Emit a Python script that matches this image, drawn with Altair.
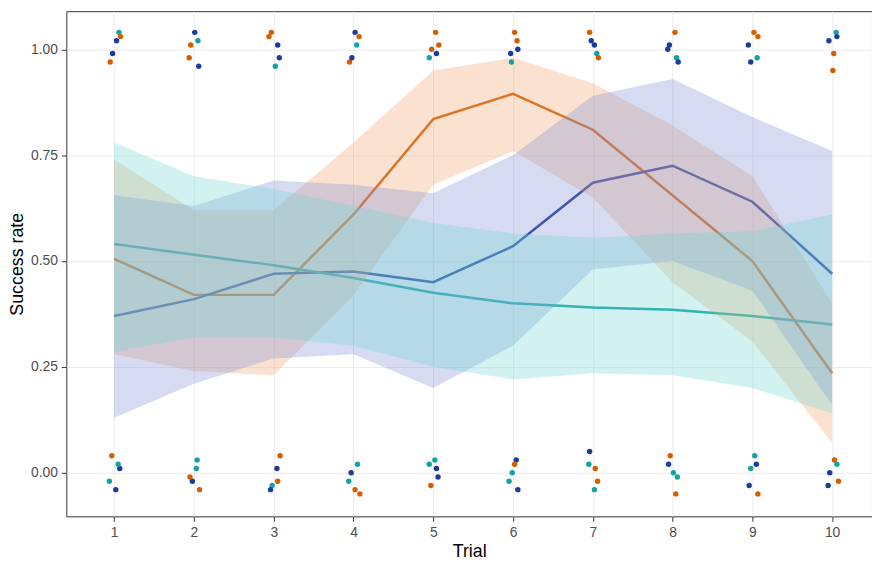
import altair as alt
import pandas as pd

trials = list(range(1, 11))
groups = ["A", "B", "C"]
colors = ["#D55E00", "#1F3A9E", "#14A3A3"]
fills = ["#F3A66E", "#7F8FD8", "#6FD6CF"]

mean_A = [0.505, 0.42, 0.42, 0.61, 0.835, 0.895, 0.81, 0.655, 0.50, 0.235]
lo_A = [0.28, 0.24, 0.23, 0.42, 0.68, 0.76, 0.65, 0.45, 0.31, 0.07]
hi_A = [0.74, 0.62, 0.62, 0.78, 0.95, 0.98, 0.92, 0.82, 0.70, 0.40]
mean_B = [0.37, 0.41, 0.47, 0.475, 0.45, 0.535, 0.685, 0.725, 0.64, 0.47]
lo_B = [0.13, 0.21, 0.27, 0.28, 0.20, 0.30, 0.48, 0.50, 0.43, 0.16]
hi_B = [0.655, 0.63, 0.69, 0.68, 0.66, 0.75, 0.89, 0.93, 0.84, 0.76]
mean_C = [0.54, 0.515, 0.49, 0.46, 0.425, 0.40, 0.39, 0.385, 0.37, 0.35]
lo_C = [0.285, 0.32, 0.32, 0.30, 0.25, 0.22, 0.235, 0.23, 0.20, 0.14]
hi_C = [0.78, 0.70, 0.67, 0.63, 0.59, 0.565, 0.555, 0.565, 0.57, 0.61]

# jittered raw outcomes: trial, outcome, group, x offset, y offset
pt_trial = [1]*10 + [2]*10 + [3]*10 + [4]*10 + [5]*10 + [6]*10 + [7]*10 + [8]*10 + [9]*10 + [10]*10
pt_out = ([1]*5 + [0]*5) * 10
pt_grp = ["A","B","C","B","A", "A","B","C","B","C",
          "B","A","C","B","A", "C","B","A","C","A",
          "A","B","C","B","A", "A","C","B","A","B",
          "B","A","C","B","A", "C","A","B","C","A",
          "A","C","A","B","A", "C","B","A","B","C",
          "A","B","A","B","C", "B","C","A","B","C",
          "A","B","C","A","B", "B","C","A","C","A",
          "A","B","C","B","B", "A","C","B","A","C",
          "A","B","C","A","B", "C","B","A","C","B",
          "B","A","C","B","A", "A","B","C","A","B"]
pt_dx = [-0.05,0.03,0.06,-0.02,0.08, -0.03,0.07,-0.06,0.02,0.05,
         0.01,-0.04,0.05,0.06,-0.06, 0.04,-0.02,0.07,0.03,-0.05,
         -0.03,0.05,0.02,0.07,-0.06, 0.08,-0.02,0.04,0.05,-0.04,
         0.02,-0.05,0.04,-0.02,0.07, 0.05,0.08,-0.03,-0.06,0.02,
         0.03,-0.05,0.07,0.04,-0.02, 0.02,0.04,-0.03,0.06,-0.05,
         0.02,-0.03,0.05,0.06,-0.02, 0.04,-0.05,0.02,0.06,-0.01,
         -0.04,0.02,0.05,0.07,-0.02, -0.04,0.02,0.03,-0.05,0.06,
         0.03,-0.04,0.05,0.07,-0.06, -0.03,0.06,-0.05,0.04,0.01,
         0.02,-0.05,0.06,0.07,-0.02, 0.03,-0.04,0.07,-0.02,0.05,
         -0.04,0.02,0.05,0.06,0.01, 0.03,-0.05,0.06,0.08,-0.03]
pt_dy = [-0.03,0.02,0.04,-0.01,0.03, 0.04,0.01,-0.02,-0.04,0.02,
         0.04,0.01,0.02,-0.04,-0.02, 0.03,-0.02,-0.04,0.01,-0.01,
         0.04,0.01,-0.04,-0.02,0.03, 0.04,-0.03,0.01,-0.02,-0.04,
         0.04,-0.03,0.01,-0.02,0.03, 0.02,-0.05,0.0,-0.02,-0.04,
         0.04,-0.02,0.01,-0.01,0.0, 0.03,0.01,-0.03,-0.01,0.02,
         0.04,-0.01,0.02,0.0,-0.03, 0.03,-0.02,0.02,-0.04,0.0,
         0.04,0.01,-0.01,-0.02,0.02, 0.05,-0.04,0.01,0.02,-0.02,
         0.04,0.01,-0.02,-0.03,0.0, 0.04,-0.01,0.02,-0.05,0.0,
         0.04,0.01,-0.02,0.03,-0.03, 0.04,-0.03,-0.05,0.01,0.02,
         0.02,-0.01,0.04,0.03,-0.05, 0.03,-0.03,0.02,-0.02,0.0]

rows = []
for g, m, lo, hi in zip(groups, [mean_A, mean_B, mean_C], [lo_A, lo_B, lo_C], [hi_A, hi_B, hi_C]):
    for t, a, b, c in zip(trials, m, lo, hi):
        rows.append({"Trial": t, "group": g, "mean": a, "lo": b, "hi": c})
df = pd.DataFrame(rows)
pts = pd.DataFrame({"Trial": [t + d for t, d in zip(pt_trial, pt_dx)],
                    "y": [o + d for o, d in zip(pt_out, pt_dy)], "group": pt_grp})

xs = alt.Scale(domain=[0.4, 10.5], nice=False, zero=False)
ys = alt.Scale(domain=[-0.103, 1.09], nice=False)
cs = alt.Scale(domain=groups, range=colors)
fs = alt.Scale(domain=groups, range=fills)

x = alt.X("Trial:Q", scale=xs, axis=alt.Axis(values=trials, title="Trial", format="d"))
line = alt.Chart(df).mark_line(strokeWidth=2.5).encode(
    x=x, y=alt.Y("mean:Q", scale=ys, axis=alt.Axis(values=[0, 0.25, 0.5, 0.75, 1], format=".2f", title="Success rate")),
    color=alt.Color("group:N", scale=cs, legend=None))
band = alt.Chart(df).mark_area(opacity=0.32).encode(
    x=x, y=alt.Y("lo:Q", scale=ys), y2="hi:Q", fill=alt.Fill("group:N", scale=fs, legend=None))
dots = alt.Chart(pts).mark_circle(size=30, opacity=1).encode(
    x=alt.X("Trial:Q", scale=xs), y=alt.Y("y:Q", scale=ys), color=alt.Color("group:N", scale=cs, legend=None))

chart = (line + band + dots).properties(
    width=874, height=556, background="white", padding=0,
    autosize=alt.AutoSizeParams(type="fit", contains="padding")
).configure_view(stroke="#333333", strokeWidth=1).configure_axis(
    gridColor="#EBEBEB", domain=False, tickColor="#333333", labelColor="#4D4D4D",
    labelFontSize=14, titleFontSize=18, titleFontWeight="normal", titleColor="black",
    labelFont="Liberation Sans", titleFont="Liberation Sans", labelPadding=4
)
chart.save("out.html", embed_options={"renderer": "svg", "actions": False})
